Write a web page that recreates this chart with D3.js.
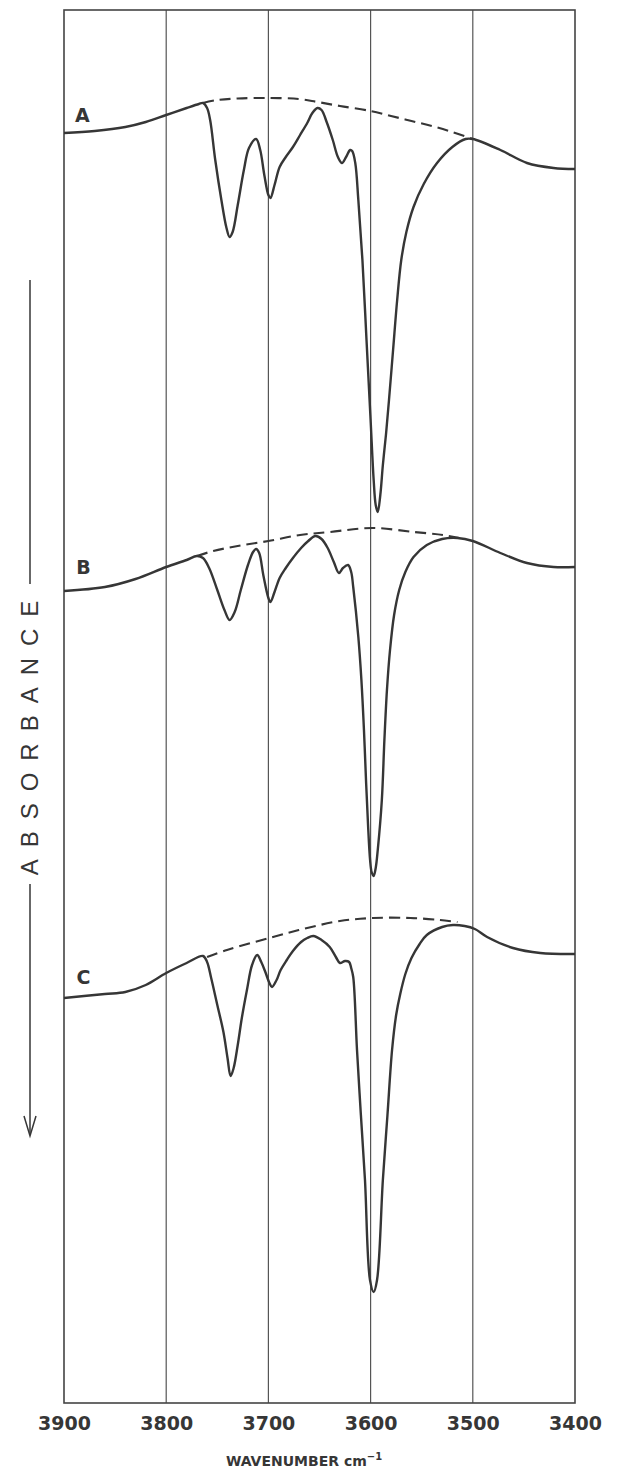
<!DOCTYPE html>
<html>
<head>
<meta charset="utf-8">
<script src="https://cdn.jsdelivr.net/npm/d3@7"></script>
<style>
html,body{margin:0;padding:0;background:#fff;}
svg{display:block;}
</style>
</head>
<body>
<svg id="chart" width="619" height="1473"></svg>
<script>
// ---- data ----
const wavenumberTicks = [3900, 3800, 3700, 3600, 3500, 3400];
const axisTitle = "WAVENUMBER";
const yAxisTitle = "ABSORBANCE";
const seriesLabels = ["A", "B", "C"];

// absorbance (offset, arbitrary units, increasing downward) vs wavenumber
const spectrumA = [
  [3900,1.23],[3870,1.21],[3840,1.17],[3820,1.12],[3800,1.05],[3780,0.98],[3768,0.94],[3764,0.93],
  [3760,0.98],[3757,1.10],[3752,1.50],[3746,1.90],[3741,2.18],[3738,2.27],[3735,2.22],[3730,1.95],
  [3724,1.60],[3719,1.38],[3712,1.29],[3708,1.40],[3704,1.65],[3700,1.85],[3698,1.88],[3694,1.75],
  [3689,1.57],[3683,1.47],[3676,1.37],[3669,1.25],[3662,1.13],[3657,1.03],[3652,0.98],[3648,1.00],
  [3643,1.12],[3637,1.30],[3632,1.47],[3628,1.53],[3624,1.47],[3620,1.40],[3618,1.41],[3615,1.53],
  [3612,1.90],[3608,2.50],[3604,3.30],[3600,4.10],[3597,4.70],[3595,4.95],[3593,5.02],[3590.5,4.85],
  [3588,4.55],[3585,4.25],[3582,3.90],[3578,3.40],[3574,2.90],[3570,2.50],[3565,2.22],[3558,1.97],
  [3548,1.74],[3535,1.53],[3520,1.37],[3507,1.29],[3500,1.29],[3473,1.40],[3447,1.53],[3421,1.58],
  [3400,1.59]
];
const baselineA = [
  [3764,0.93],[3750,0.90],[3730,0.885],[3700,0.88],[3670,0.89],[3652,0.92],[3630,0.96],
  [3600,1.01],[3580,1.06],[3560,1.11],[3540,1.16],[3520,1.22],[3500,1.29]
];
const spectrumB = [
  [3900,5.81],[3860,5.77],[3830,5.69],[3800,5.57],[3780,5.50],[3770,5.46],[3764,5.48],[3758,5.58],
  [3750,5.80],[3743,6.00],[3738,6.10],[3733,6.02],[3727,5.80],[3720,5.55],[3715,5.42],[3712,5.39],
  [3709,5.43],[3705,5.65],[3700,5.88],[3698,5.92],[3694,5.82],[3689,5.68],[3683,5.58],[3676,5.48],
  [3668,5.38],[3661,5.31],[3654,5.26],[3648,5.29],[3642,5.38],[3636,5.52],[3631,5.63],[3627,5.58],
  [3622,5.55],[3619,5.62],[3617,5.77],[3612,6.27],[3609,6.70],[3606.5,7.20],[3604.5,7.70],
  [3602.5,8.15],[3600.5,8.50],[3599,8.62],[3597,8.66],[3595,8.58],[3593,8.40],[3589,7.90],
  [3586.5,7.30],[3584,6.80],[3581,6.40],[3577,6.05],[3572,5.80],[3566,5.62],[3558,5.47],[3545,5.35],
  [3530,5.29],[3515,5.28],[3500,5.31],[3473,5.43],[3447,5.53],[3421,5.57],[3400,5.57]
];
const baselineB = [
  [3770,5.46],[3754,5.41],[3730,5.36],[3700,5.31],[3669,5.25],[3640,5.22],[3598,5.18],
  [3558,5.22],[3529,5.25],[3513,5.28]
];
const spectrumC = [
  [3900,9.88],[3860,9.84],[3840,9.82],[3820,9.75],[3800,9.63],[3780,9.53],[3764,9.46],[3760,9.52],
  [3756,9.68],[3750,9.95],[3744,10.22],[3740,10.48],[3737,10.66],[3734,10.58],[3730,10.35],
  [3726,10.08],[3721,9.80],[3716,9.55],[3711,9.45],[3707,9.52],[3703,9.62],[3699,9.73],[3696.5,9.77],
  [3692,9.70],[3688,9.60],[3682,9.50],[3676,9.41],[3668,9.32],[3662,9.28],[3656,9.26],[3648,9.30],
  [3640,9.37],[3634,9.47],[3630,9.53],[3625,9.51],[3621,9.52],[3619,9.58],[3617,9.67],[3613.3,10.40],
  [3609.5,11.05],[3605.5,11.70],[3600.6,12.70],[3597,12.82],[3593.7,12.70],[3588,11.70],
  [3583.5,11.05],[3579,10.40],[3575,10.05],[3571,9.84],[3566,9.64],[3560,9.48],[3552,9.34],
  [3545,9.25],[3530,9.17],[3519.4,9.15],[3508,9.16],[3498,9.19],[3486,9.27],[3460.7,9.38],
  [3434,9.43],[3400,9.44]
];
const baselineC = [
  [3760,9.47],[3740.5,9.40],[3695.5,9.27],[3662,9.18],[3630,9.11],[3597.6,9.08],
  [3561,9.08],[3532,9.10],[3515,9.12]
];
const labelPositions = [[3882,1.05],[3881,5.57],[3881,9.67]]; // wavenumber, absorbance for A/B/C

// ---- layout ----
const svg = d3.select("#chart");
const plotLeft = 64, plotRight = 575, plotTop = 10, plotBottom = 1403;
const x = d3.scaleLinear().domain([3900, 3400]).range([plotLeft, plotRight]);
const y = d3.scaleLinear().domain([0, 13.93]).range([plotTop, plotBottom]);

const ink = "#363636";

// grid lines
svg.append("g").selectAll("line").data(wavenumberTicks.slice(1, -1)).join("line")
  .attr("x1", d => x(d)).attr("x2", d => x(d))
  .attr("y1", plotTop).attr("y2", plotBottom)
  .attr("stroke", "#555").attr("stroke-width", 1.2);

// frame
svg.append("rect").attr("x", plotLeft).attr("y", plotTop)
  .attr("width", plotRight - plotLeft).attr("height", plotBottom - plotTop)
  .attr("fill", "none").attr("stroke", "#444").attr("stroke-width", 1.6);

// x axis tick labels
const xAxis = d3.axisBottom(x).tickValues(wavenumberTicks).tickSize(0).tickPadding(14)
  .tickFormat(d3.format("d"));
const gx = svg.append("g").attr("transform", `translate(0,${plotBottom})`).call(xAxis);
gx.select(".domain").remove();
gx.selectAll("text").attr("font-family", "DejaVu Sans, sans-serif").attr("font-weight", "bold")
  .attr("font-size", 19).attr("fill", ink);

// x axis title
const tt = svg.append("text").attr("x", 304).attr("y", 1466).attr("text-anchor", "middle")
  .attr("font-family", "DejaVu Sans, sans-serif").attr("font-weight", "bold")
  .attr("font-size", 14).attr("fill", ink);
tt.append("tspan").text(axisTitle + " cm");
tt.append("tspan").attr("dy", -6).attr("font-size", 10).text("\u22121");

// curves
const line = d3.line().x(d => x(d[0])).y(d => y(d[1])).curve(d3.curveCatmullRom.alpha(0.5));
[spectrumA, spectrumB, spectrumC].forEach(s => {
  svg.append("path").attr("d", line(s)).attr("fill", "none")
    .attr("stroke", ink).attr("stroke-width", 2.4).attr("stroke-linejoin", "round");
});
[baselineA, baselineB, baselineC].forEach(s => {
  svg.append("path").attr("d", line(s)).attr("fill", "none")
    .attr("stroke", ink).attr("stroke-width", 2.1).attr("stroke-dasharray", "11,6");
});

// series labels
svg.append("g").selectAll("text").data(seriesLabels).join("text")
  .attr("x", (d, i) => x(labelPositions[i][0])).attr("y", (d, i) => y(labelPositions[i][1]) + 7)
  .attr("text-anchor", "middle").attr("font-family", "DejaVu Sans, sans-serif")
  .attr("font-weight", "bold").attr("font-size", 19).attr("fill", ink).text(d => d);

// absorbance label with arrow
const ax = 30;
svg.append("line").attr("x1", ax).attr("x2", ax).attr("y1", 280).attr("y2", 584)
  .attr("stroke", ink).attr("stroke-width", 1.5);
svg.append("text").attr("transform", `translate(${ax + 8},732) rotate(-90)`)
  .attr("text-anchor", "middle").attr("font-family", "Liberation Sans, Arial, sans-serif")
  .attr("font-size", 24).attr("letter-spacing", 12).attr("fill", ink).text(yAxisTitle);
svg.append("line").attr("x1", ax).attr("x2", ax).attr("y1", 884).attr("y2", 1135)
  .attr("stroke", ink).attr("stroke-width", 1.5);
svg.append("path").attr("d", `M${ax - 6},1116 L${ax},1136 L${ax + 6},1116`)
  .attr("fill", "none").attr("stroke", ink).attr("stroke-width", 1.5);
</script>
</body>
</html>
